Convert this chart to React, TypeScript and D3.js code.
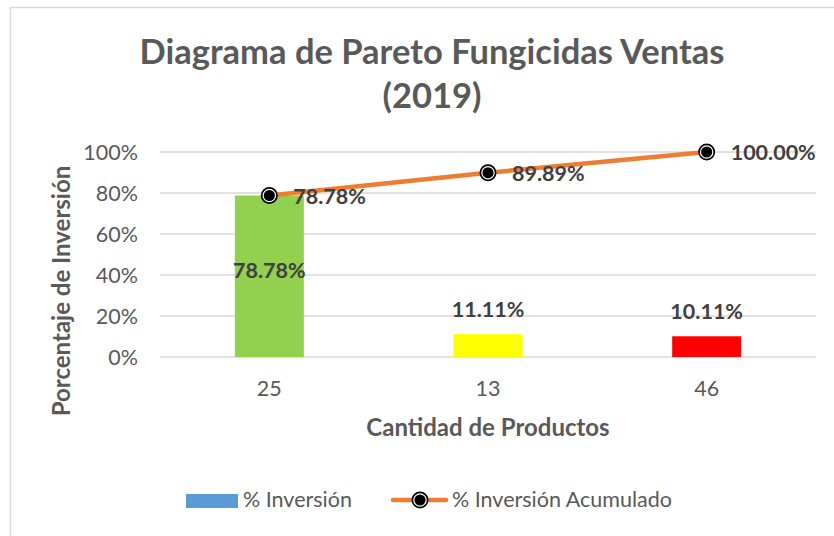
import React, { useRef, useEffect } from "react";
import * as d3 from "d3";

const categories = ["25", "13", "46"];
const investPct = [78.78, 11.11, 10.11];
const cumulativePct = [78.78, 89.89, 100.0];
const barColors = ["#92D050", "#FFFF00", "#FF0000"];
const yTicks = [0, 20, 40, 60, 80, 100];

const titleLines = ["Diagrama de Pareto Fungicidas Ventas", "(2019)"];
const xTitle = "Cantidad de Productos";
const yTitle = "Porcentaje de Inversión";
const legendBar = "% Inversión";
const legendLine = "% Inversión Acumulado";

const FONT = "Lato, 'Open Sans', sans-serif";
const TEXT_GRAY = "#595959";
const LABEL_GRAY = "#404040";
const ORANGE = "#ED7D31";

const App = () => {
  const svgRef = useRef<SVGSVGElement>(null);

  useEffect(() => {
    document.body.style.margin = "0";
    const width = 834;
    const height = 536;
    const svg = d3.select(svgRef.current);
    svg.selectAll("*").remove();

    const plot = { left: 160, right: 816, top: 152, bottom: 357 };

    // chart area border
    svg
      .append("rect")
      .attr("x", 10.5)
      .attr("y", 7.5)
      .attr("width", width + 10)
      .attr("height", height + 10)
      .attr("fill", "white")
      .attr("stroke", "#D9D9D9")
      .attr("stroke-width", 1.5);

    const x = d3
      .scaleBand()
      .domain(categories)
      .range([plot.left, plot.right])
      .padding(0);

    const y = d3
      .scaleLinear()
      .domain([0, 100])
      .range([plot.bottom, plot.top]);

    const barWidth = x.bandwidth() / 3.17;
    const cx = (c) => x(c) + x.bandwidth() / 2;

    // title
    titleLines.forEach((line, i) => {
      svg
        .append("text")
        .attr("x", 432)
        .attr("y", 64 + i * 44)
        .attr("text-anchor", "middle")
        .attr("font-family", FONT)
        .attr("font-weight", "bold")
        .attr("font-size", 34.5)
        .attr("fill", TEXT_GRAY)
        .text(line);
    });

    // gridlines
    svg
      .append("g")
      .selectAll("line")
      .data(yTicks)
      .join("line")
      .attr("x1", plot.left)
      .attr("x2", plot.right)
      .attr("y1", (d) => y(d))
      .attr("y2", (d) => y(d))
      .attr("stroke", "#D9D9D9")
      .attr("stroke-width", 1.5);

    // y tick labels
    svg
      .append("g")
      .selectAll("text")
      .data(yTicks)
      .join("text")
      .attr("x", 138)
      .attr("y", (d) => y(d) + 7.5)
      .attr("text-anchor", "end")
      .attr("font-family", FONT)
      .attr("font-size", 21.5)
      .attr("fill", TEXT_GRAY)
      .text((d) => `${d}%`);

    // x tick labels
    svg
      .append("g")
      .selectAll("text")
      .data(categories)
      .join("text")
      .attr("x", (d) => cx(d))
      .attr("y", 396)
      .attr("text-anchor", "middle")
      .attr("font-family", FONT)
      .attr("font-size", 21.5)
      .attr("fill", TEXT_GRAY)
      .text((d) => d);

    // bars
    svg
      .append("g")
      .selectAll("rect")
      .data(categories)
      .join("rect")
      .attr("x", (d) => cx(d) - barWidth / 2)
      .attr("y", (d, i) => y(investPct[i]))
      .attr("width", barWidth)
      .attr("height", (d, i) => y(0) - y(investPct[i]))
      .attr("fill", (d, i) => barColors[i]);

    // bar labels
    svg
      .append("g")
      .selectAll("text")
      .data(categories)
      .join("text")
      .attr("x", (d) => cx(d))
      .attr("y", (d, i) =>
        investPct[i] > 50
          ? (y(investPct[i]) + y(0)) / 2 + 2
          : y(investPct[i]) - 17.5
      )
      .attr("text-anchor", "middle")
      .attr("font-family", FONT)
      .attr("font-weight", "bold")
      .attr("font-size", 21.5)
      .attr("fill", LABEL_GRAY)
      .text((d, i) => `${investPct[i].toFixed(2)}%`);

    // cumulative line
    const line = d3
      .line<string>()
      .x((d) => cx(d))
      .y((d, i) => y(cumulativePct[i]));

    svg
      .append("path")
      .datum(categories)
      .attr("d", line)
      .attr("fill", "none")
      .attr("stroke", ORANGE)
      .attr("stroke-width", 4.5)
      .attr("stroke-linecap", "round");

    const drawMarker = (g, mx, my) => {
      g.append("circle")
        .attr("cx", mx)
        .attr("cy", my)
        .attr("r", 8.5)
        .attr("fill", "black");
      g.append("circle")
        .attr("cx", mx)
        .attr("cy", my)
        .attr("r", 6.2)
        .attr("fill", "black")
        .attr("stroke", "white")
        .attr("stroke-width", 1.2);
    };

    const markers = svg.append("g");
    categories.forEach((c, i) => drawMarker(markers, cx(c), y(cumulativePct[i])));

    // line labels
    svg
      .append("g")
      .selectAll("text")
      .data(categories)
      .join("text")
      .attr("x", (d) => cx(d) + 24)
      .attr("y", (d, i) => y(cumulativePct[i]) + 8)
      .attr("font-family", FONT)
      .attr("font-weight", "bold")
      .attr("font-size", 21.5)
      .attr("fill", LABEL_GRAY)
      .text((d, i) => `${cumulativePct[i].toFixed(2)}%`);

    // axis titles
    svg
      .append("text")
      .attr("x", (plot.left + plot.right) / 2)
      .attr("y", 436)
      .attr("text-anchor", "middle")
      .attr("font-family", FONT)
      .attr("font-weight", "bold")
      .attr("font-size", 24)
      .attr("fill", TEXT_GRAY)
      .text(xTitle);

    svg
      .append("text")
      .attr("transform", `translate(70, 291) rotate(-90)`)
      .attr("text-anchor", "middle")
      .attr("font-family", FONT)
      .attr("font-weight", "bold")
      .attr("font-size", 24)
      .attr("fill", TEXT_GRAY)
      .text(yTitle);

    // legend
    const legend = svg.append("g");
    legend
      .append("rect")
      .attr("x", 186)
      .attr("y", 494)
      .attr("width", 52)
      .attr("height", 14)
      .attr("fill", "#5B9BD5");
    legend
      .append("text")
      .attr("x", 243)
      .attr("y", 507)
      .attr("font-family", FONT)
      .attr("font-size", 21.5)
      .attr("fill", TEXT_GRAY)
      .text(legendBar);
    legend
      .append("line")
      .attr("x1", 393)
      .attr("x2", 446)
      .attr("y1", 500)
      .attr("y2", 500)
      .attr("stroke", ORANGE)
      .attr("stroke-width", 4.5)
      .attr("stroke-linecap", "round");
    drawMarker(legend, 420, 500);
    legend
      .append("text")
      .attr("x", 452)
      .attr("y", 507)
      .attr("font-family", FONT)
      .attr("font-size", 21.5)
      .attr("fill", TEXT_GRAY)
      .text(legendLine);
  }, []);

  return (
    <div>
      <svg ref={svgRef} width={834} height={536} style={{ display: "block" }} />
    </div>
  );
};

export default App;
